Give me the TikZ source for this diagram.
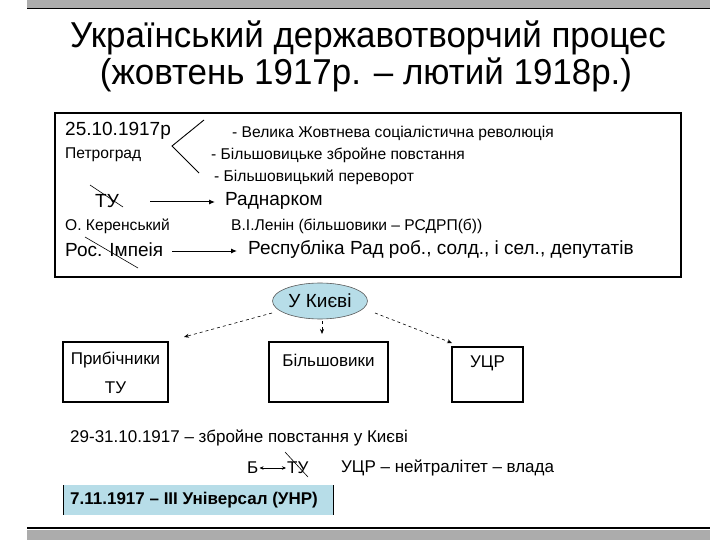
\documentclass[tikz,border=0pt]{standalone}
\usepackage{fontspec}
\setmainfont{Liberation Sans}
\newfontfamily\narrowfont[FakeStretch=0.97]{Liberation Sans}
\usetikzlibrary{arrows.meta,shapes.geometric}
\definecolor{lblue}{HTML}{B7DDE8}
\tikzset{
  txt/.style={inner sep=0pt, anchor=west, font=\fontsize{15.6}{17}\selectfont},
  big/.style={inner sep=0pt, anchor=west, font=\fontsize{19}{22}\selectfont},
  mid/.style={inner sep=0pt, anchor=west, font=\fontsize{17}{20}\selectfont},
  boxed/.style={draw, line width=1.6pt},
  solidarr/.style={-{Latex[length=6pt,width=5pt]}, line width=1pt},
  dasharr/.style={dashed, -{Stealth[length=5pt,width=4pt]}, line width=0.6pt},
  crossline/.style={line width=0.6pt},
  titlefont/.style={font=\narrowfont\fontsize{36}{40}\selectfont, inner sep=0pt, anchor=base},
}
\begin{document}
\begin{tikzpicture}[x=1pt,y=-1pt]
\useasboundingbox (0,0) rectangle (720,540);
\fill[white] (0,0) rectangle (720,540);
% top and bottom bars
\fill[gray!65] (27,0) rectangle (710,8);
\draw[line width=1.2pt] (27,8.5) -- (710,8.5);
\fill[gray!65] (27,530) rectangle (710,540);
\draw[line width=2.5pt] (27,528) -- (710,528);
% title
\node[titlefont] (t1) at (368,48) {Український державотворчий процес};
\node[titlefont] (t2) at (366,85) {(жовтень 1917р. – лютий 1918р.)};
% main box
\draw[boxed] (55,113) rectangle (681,277);
\node[big] (date) at (65,131) {25.10.1917р};
\node[txt] (petr) at (65,155) {Петроград};
\coordinate (b1) at (204,120);
\coordinate (b2) at (172,146);
\coordinate (b3) at (199,173);
\draw[line width=0.9pt] (b1) -- (b2) -- (b3);
\node[txt] (l1) at (232,133) {- Велика Жовтнева соціалістична революція};
\node[txt] (l2) at (211,155) {- Більшовицьке збройне повстання};
\node[txt] (l3) at (214,177) {- Більшовицький переворот};
\node[big] (tu) at (95,201) {ТУ};
\draw[crossline] (90,185) -- (123,207);
\node[big] (rad) at (225,201) {Раднарком};
\coordinate (ra1) at (150,202);
\coordinate (ra2) at (215,202);
\draw[solidarr] (ra1) -- (ra2);
\node[txt] (ker) at (65,226) {О. Керенський};
\node[txt] (len) at (231,226) {В.І.Ленін (більшовики – РСДРП(б))};
\node[big] (ros) at (65,250) {Рос. Імпеія};
\draw[crossline] (85,237) -- (138,268);
\node[big] (resp) at (248,250) {Республіка Рад роб., солд., і сел., депутатів};
\coordinate (rs1) at (172,251);
\coordinate (rs2) at (237,251);
\draw[solidarr] (rs1) -- (rs2);
% ellipse
\node[ellipse, draw=gray!70!black, line width=0.6pt, fill=lblue, minimum width=95pt, minimum height=36pt, inner sep=0pt, font=\fontsize{19}{22}\selectfont] (kyiv) at (320,301) {У Києві};
% boxes
\draw[boxed] (63,342) rectangle (168,402);
\node[mid, anchor=center] (prib) at (115.5,360) {Прибічники};
\node[mid, anchor=center] (prib2) at (115.5,388) {ТУ};
\coordinate (pribtop) at (184,337);
\draw[boxed] (269,342) rectangle (388,402);
\node[mid, anchor=center] (bil) at (328.5,360) {Більшовики};
\coordinate (biltop) at (322,334);
\draw[boxed] (452,347) rectangle (523,402);
\node[mid, anchor=center] (ucr) at (487.5,363) {УЦР};
\coordinate (ucrtop) at (452,343);
\coordinate (ks1) at (272,313);
\coordinate (ks2) at (322,321);
\coordinate (ks3) at (375,313);
\draw[dasharr] (ks1) -- (pribtop);
\draw[dasharr] (ks2) -- (biltop);
\draw[dasharr] (ks3) -- (ucrtop);
% bottom text
\node[mid] (ev) at (70,438) {29-31.10.1917 – збройне повстання у Києві};
\node[mid] (b) at (247,468) {Б};
\node[mid] (tu2) at (287,468) {ТУ};
\draw[crossline] (285,452) -- (308,477);
\draw[{Stealth[length=4pt,width=3.5pt]}-{Stealth[length=4pt,width=3.5pt]}, line width=0.6pt] (b.east)++(1,0) -- ([xshift=-1pt]tu2.west);
\node[mid] (ucr2) at (341,468) {УЦР – нейтралітет – влада};
\fill[lblue] (63,485) rectangle (333,515);
\draw[line width=0.8pt] (63,485) -- (63,515);
\draw[line width=0.8pt] (333,485) -- (333,515);
\node[mid, font=\bfseries\fontsize{17}{20}\selectfont] (univ) at (70,500) {7.11.1917 – ІІІ Універсал (УНР)};
\end{tikzpicture}
\end{document}
